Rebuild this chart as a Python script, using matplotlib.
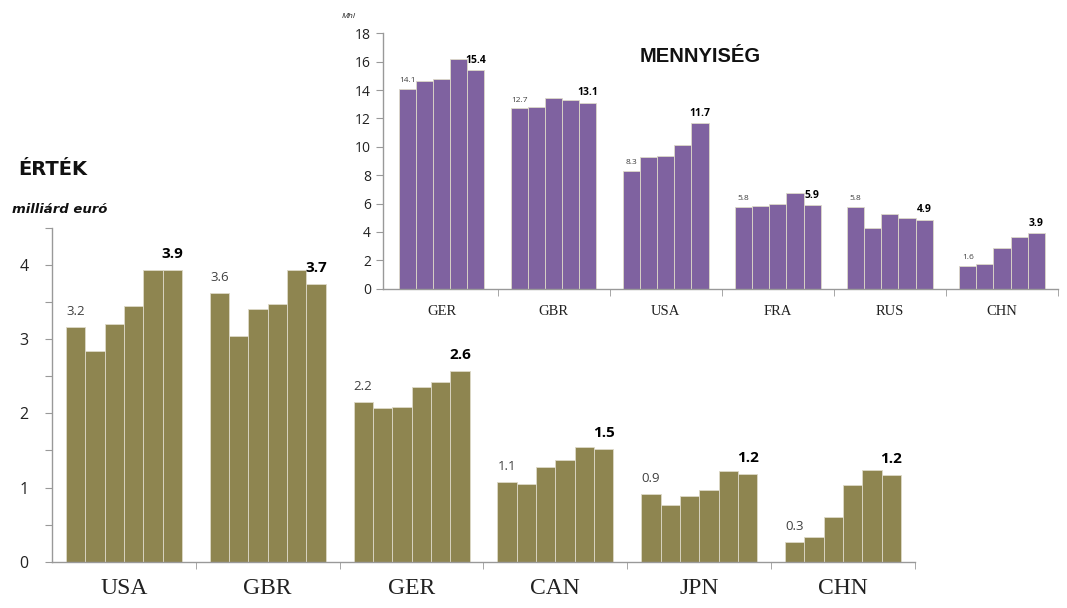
import numpy as np
import matplotlib
matplotlib.use("Agg")
from matplotlib import pyplot as plt

# ÉRTÉK (milliárd euró), hat év országonként
ertek_orszagok = ["USA", "GBR", "GER", "CAN", "JPN", "CHN"]
ertek_usa = [3.16, 2.84, 3.20, 3.45, 3.94, 3.94]
ertek_gbr = [3.62, 3.05, 3.41, 3.47, 3.93, 3.74]
ertek_ger = [2.16, 2.07, 2.09, 2.36, 2.42, 2.57]
ertek_can = [1.07, 1.05, 1.28, 1.37, 1.54, 1.52]
ertek_jpn = [0.91, 0.77, 0.88, 0.97, 1.22, 1.18]
ertek_chn = [0.26, 0.33, 0.60, 1.04, 1.24, 1.17]

# MENNYISÉG (Mhl), öt év országonként
menny_orszagok = ["GER", "GBR", "USA", "FRA", "RUS", "CHN"]
menny_ger = [14.1, 14.61, 14.80, 16.17, 15.4]
menny_gbr = [12.71, 12.78, 13.44, 13.30, 13.11]
menny_usa = [8.32, 9.26, 9.37, 10.15, 11.68]
menny_fra = [5.78, 5.83, 5.95, 6.77, 5.88]
menny_rus = [5.78, 4.30, 5.29, 4.96, 4.86]
menny_chn = [1.62, 1.72, 2.85, 3.67, 3.90]

ertek = [ertek_usa, ertek_gbr, ertek_ger, ertek_can, ertek_jpn, ertek_chn]
menny = [menny_ger, menny_gbr, menny_usa, menny_fra, menny_rus, menny_chn]

OLIVA = "#8E8550"
LILA = "#7F62A0"
TENGELY = "#999999"
SANS = ["Open Sans", "DejaVu Sans"]
SERIF = "Liberation Serif"


def csoportok(ax, adatok, szin, kitoltes, elso_meret, utolso_meret, eltolas):
    for i, sor in enumerate(adatok):
        n = len(sor)
        w = kitoltes / n
        xs = i - kitoltes / 2 + w / 2 + np.arange(n) * w
        ax.bar(xs, sor, width=w, color=szin, edgecolor="#DDD9C8",
               linewidth=0.6)
        ax.text(xs[0], sor[0] + eltolas, f"{sor[0]:.1f}", ha="center",
                va="bottom", fontsize=elso_meret, color="#404040",
                family=SANS)
        ax.text(xs[-1], sor[-1] + eltolas, f"{sor[-1]:.1f}", ha="center",
                va="bottom", fontsize=utolso_meret, color="black",
                fontweight="bold", family=SANS)


def tengely_stilus(ax, nevek, ymax, ylepes, cimke_meret, ytick_meret,
                   ypad, xpad):
    for s in ["top", "right"]:
        ax.spines[s].set_visible(False)
    for s in ["left", "bottom"]:
        ax.spines[s].set_color(TENGELY)
        ax.spines[s].set_linewidth(1.0)
    ax.set_ylim(0, ymax)
    ax.set_xticks(range(len(nevek)))
    ax.set_xticklabels(nevek, family=SERIF, fontsize=cimke_meret,
                       color="#222222")
    ax.set_xticks(np.arange(len(nevek)) + 0.5, minor=True)
    ax.tick_params(axis="x", which="major", length=0, pad=xpad)
    ax.tick_params(axis="x", which="minor", length=5, color=TENGELY,
                   direction="out")
    ax.set_yticks(np.arange(0, ymax + 0.01, ylepes))
    ax.tick_params(axis="y", length=5, color=TENGELY, pad=ypad,
                   labelsize=ytick_meret, labelcolor="#222222")
    for t in ax.get_yticklabels():
        t.set_family(SANS)


fig = plt.figure(figsize=(10.67, 6.08), dpi=100)

# fő diagram: érték
ax = fig.add_axes([0.0487, 0.0762, 0.8088, 0.5488])
csoportok(ax, ertek, OLIVA, 0.807, 9.5, 11, 0.12)
tengely_stilus(ax, ertek_orszagok, 4.5, 0.5, 17, 11.5, 12, 12)
ax.set_xlim(-0.5, 5.5)
ax.set_yticklabels([f"{v:g}" if v == int(v) else "" for v in
                    np.arange(0, 4.51, 0.5)])

fig.text(18 / 1067, 1 - 175 / 608, "ÉRTÉK", fontsize=14, fontweight="bold",
         family="DejaVu Sans", color="#111111", va="baseline")
fig.text(12 / 1067, 1 - 213 / 608, "milliárd euró", fontsize=9.5,
         fontweight="bold", style="italic", family="DejaVu Sans",
         color="#111111", va="baseline")

# beillesztett diagram: mennyiség
ax2 = fig.add_axes([0.3592, 0.5252, 0.6324, 0.42])
ax2.patch.set_alpha(0)
csoportok(ax2, menny, LILA, 0.764, 6, 7.5, 0.3)
tengely_stilus(ax2, menny_orszagok, 18, 2, 10.5, 10, 4, 12)
ax2.set_xlim(-0.52, 5.5)

fig.text(640 / 1067, 1 - 62 / 608, "MENNYISÉG", fontsize=14.5,
         fontweight="bold", family="Liberation Sans", color="#111111",
         va="baseline")
fig.text(342 / 1067, 1 - 18 / 608, "Mhl", fontsize=6, style="italic",
         family=SANS, color="#222222", va="baseline")

fig.savefig("out.png", dpi=100)
